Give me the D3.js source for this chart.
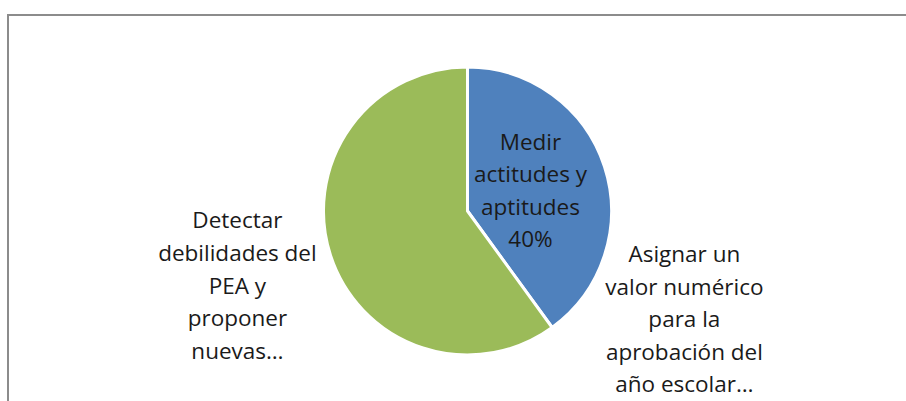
<!DOCTYPE html>
<html>
<head>
<meta charset="utf-8">
<script src="https://cdn.jsdelivr.net/npm/d3@7/dist/d3.min.js"></script>
<style>
  html, body { margin: 0; padding: 0; background: #fff; }
  svg { display: block; }
</style>
</head>
<body>
<svg id="chart" width="906" height="401"></svg>
<script>
// ---- data ----
const categories = [
  "Medir actitudes y aptitudes",
  "Asignar un valor numérico para la aprobación del año escolar…",
  "Detectar debilidades del PEA y proponer nuevas…"
];
const values = [40, 0, 60];
const labelLines = [
  ["Medir", "actitudes y", "aptitudes", "40%"],
  ["Asignar un", "valor numérico", "para la", "aprobación del", "año escolar…"],
  ["Detectar", "debilidades del", "PEA y", "proponer", "nuevas…"]
];
const colors = ["#4F81BD", "#C0504D", "#9BBB59"];

// ---- layout ----
const W = 906, H = 401;
const cx = 467.5, cy = 211, r = 144;
const fontSize = 22.5, lineH = 32.6;

const svg = d3.select("#chart");

// frame
svg.append("rect")
  .attr("x", 8).attr("y", 15)
  .attr("width", W + 20).attr("height", H + 20)
  .attr("fill", "#fff")
  .attr("stroke", "#8c8c8c")
  .attr("stroke-width", 2);

const data = categories.map((c, i) => ({ cat: c, value: values[i], lines: labelLines[i], color: colors[i] }));

const pie = d3.pie().sort(null).value(d => d.value);
const arcs = pie(data);
const arc = d3.arc().innerRadius(0).outerRadius(r);

const g = svg.append("g").attr("transform", `translate(${cx},${cy})`);

g.selectAll("path")
  .data(arcs.filter(a => a.data.value > 0))
  .join("path")
  .attr("d", arc)
  .attr("fill", d => d.data.color)
  .attr("stroke", "#fff")
  .attr("stroke-width", 3)
  .attr("stroke-linejoin", "round");

// label placement: [radius factor, extra dx, extra dy]
const placement = [
  { mode: "mid", k: 0.46, dx: 0, dy: 0 },
  { mode: "start", k: 1.05, dx: 128, dy: -14 },
  { mode: "mid", k: 1.68, dx: 0, dy: 0 }
];

arcs.forEach((a, i) => {
  const p = placement[i];
  const ang = p.mode === "mid" ? (a.startAngle + a.endAngle) / 2 : a.startAngle;
  const x = Math.sin(ang) * r * p.k + p.dx;
  const y = -Math.cos(ang) * r * p.k + p.dy;
  const lines = a.data.lines;
  const t = g.append("text")
    .attr("text-anchor", "middle")
    .attr("font-family", "'Open Sans', sans-serif")
    .attr("font-size", fontSize)
    .attr("fill", "#1a1a1a");
  lines.forEach((ln, j) => {
    t.append("tspan")
      .attr("x", x)
      .attr("y", y + (j - (lines.length - 1) / 2) * lineH)
      .attr("dy", "0.35em")
      .text(ln);
  });
});
</script>
</body>
</html>
